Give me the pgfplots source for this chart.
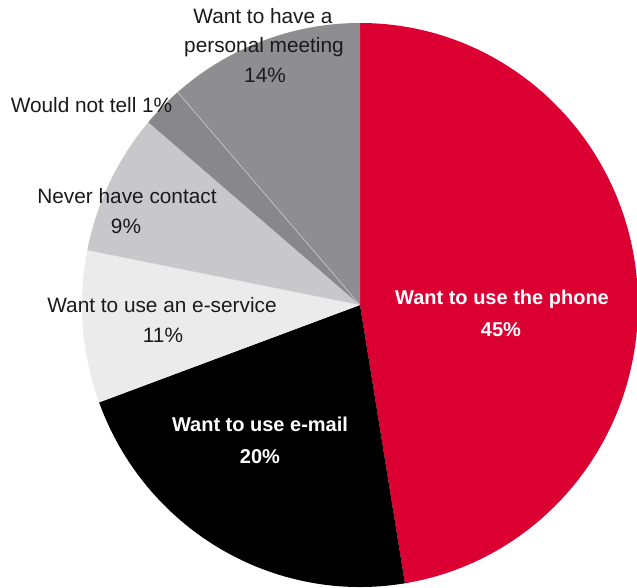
\documentclass[border=0pt]{standalone}
\usepackage{pgfplots}
\pgfplotsset{compat=1.18}
\usepackage{fontspec}
\setmainfont{Liberation Sans}
\definecolor{phone}{HTML}{DC0032}
\definecolor{email}{HTML}{000000}
\definecolor{eserv}{HTML}{EBEBEB}
\definecolor{never}{HTML}{C8C8CA}
\definecolor{nottell}{HTML}{88888A}
\definecolor{meet}{HTML}{8E8E90}
\definecolor{txt}{HTML}{1A1A1A}
% slice boundaries (parametric angles, degrees), centre (360,282), radii 278 x 282
\newcommand{\slice}[3]{%
  \fill[#3] (axis cs:360,282) -- ++(#1:278pt and 282pt)
    arc[start angle=#1, end angle=#2, x radius=278pt, y radius=282pt] -- cycle;}
\begin{document}
\begin{tikzpicture}
\begin{axis}[
  scale only axis, width=637pt, height=587pt,
  xmin=0, xmax=637, ymin=0, ymax=587,
  hide axis, clip=true]
\slice{90}{-80.7}{phone}
\slice{-80.7}{-159.8}{email}
\slice{200.2}{168.8}{eserv}
\slice{168.8}{139.6}{never}
\slice{139.6}{131}{nottell}
\slice{131}{90}{meet}
\draw[line width=0.6pt, color=white!55!meet] (axis cs:360,282) -- ++(131:278pt and 282pt);
% labels
\begin{scope}[every node/.style={anchor=base, inner sep=0pt, text=txt, font=\fontsize{20.8}{25}\selectfont}]
\node at (axis cs:263,563) {Want to have a};
\node at (axis cs:264,534) {personal meeting};
\node at (axis cs:265,504) {14\%};
\node at (axis cs:91.5,474) {Would not tell 1\%};
\node at (axis cs:127,383) {Never have contact};
\node at (axis cs:126,353) {9\%};
\node at (axis cs:162,274) {Want to use an e-service};
\node at (axis cs:163,244) {11\%};
\end{scope}
\begin{scope}[every node/.style={anchor=base, inner sep=0pt, text=white, font=\fontsize{20}{24}\selectfont\bfseries}]
\node at (axis cs:260,156) {Want to use e-mail};
\node at (axis cs:260,124) {20\%};
\node at (axis cs:502,282) {Want to use the phone};
\node at (axis cs:501,251) {45\%};
\end{scope}
\end{axis}
\pgfresetboundingbox
\path (0,0) rectangle (637pt,587pt);
\end{tikzpicture}
\end{document}
